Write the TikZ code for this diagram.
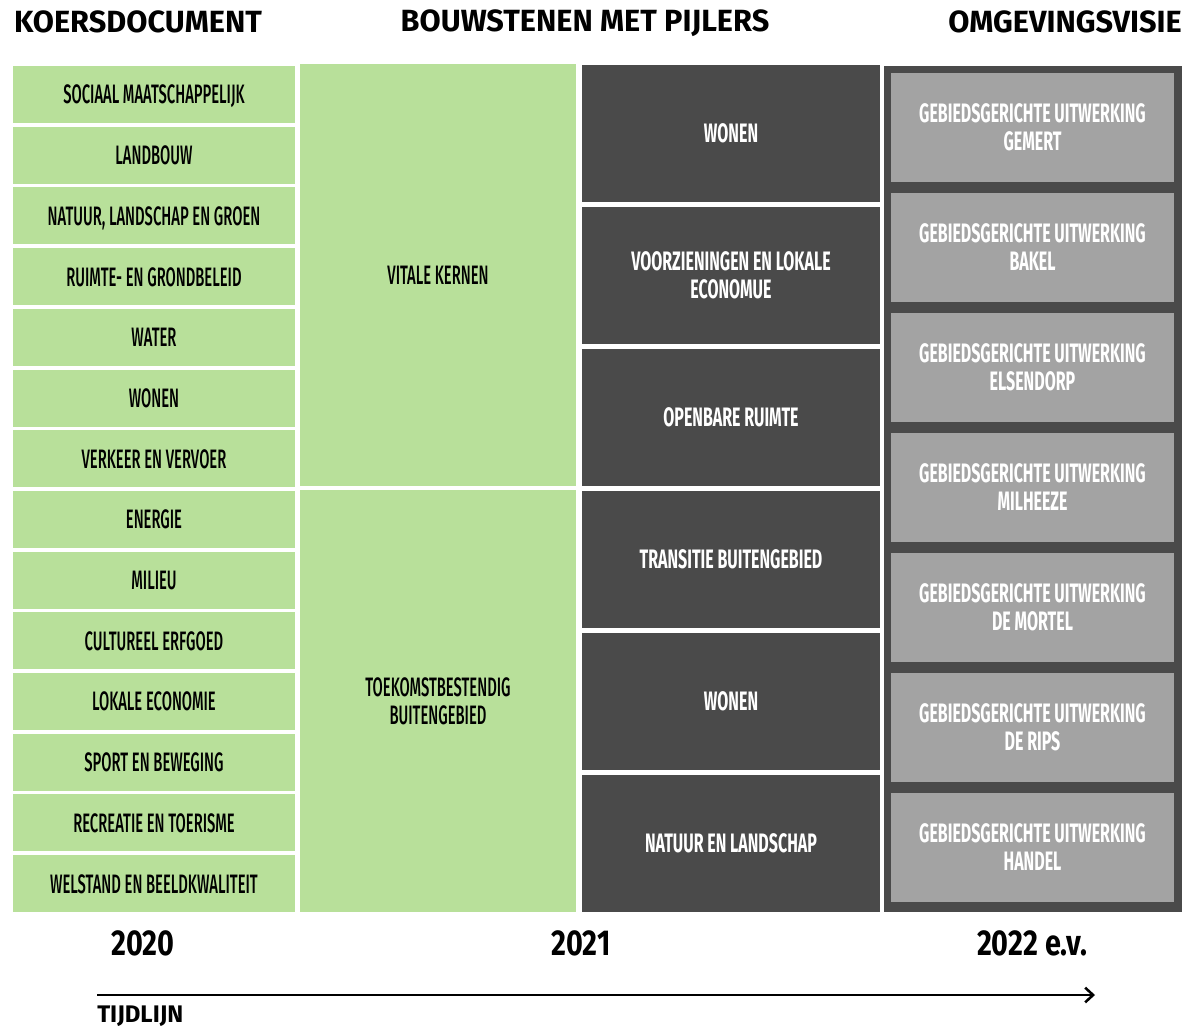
\documentclass[tikz,border=0pt]{standalone}
\usepackage{fontspec}
\setmainfont{Fira Sans}
\newfontfamily\smalfont{Fira Sans Medium}[FakeStretch=0.555]
\newfontfamily\bredefont{Fira Sans}[FakeStretch=0.6]
\newfontfamily\headfont{Fira Sans}
\newfontfamily\yearfont{Fira Sans}[FakeStretch=0.8]
\usetikzlibrary{arrows.meta}
\definecolor{lichtgroen}{HTML}{B8E09A}
\definecolor{donkergrijs}{HTML}{4A4A4A}
\definecolor{lichtgrijs}{HTML}{A3A3A3}
\tikzset{
	blok/.style={inner sep=0pt, outer sep=0pt, text depth=0pt, align=center, font={\smalfont\fontsize{20}{21}\selectfont}},
	thema/.style={blok, fill=lichtgroen, minimum width=211.5pt, minimum height=42.75pt},
	bouwsteen/.style={blok, fill=lichtgroen, minimum width=207pt, minimum height=316.5pt},
	pijler/.style={blok, fill=donkergrijs, text=white, minimum width=223.5pt, minimum height=102.75pt, font={\bredefont\bfseries\fontsize{20}{21}\selectfont}},
	gebied/.style={blok, fill=lichtgrijs, text=white, minimum width=212.25pt, minimum height=81.75pt, font={\bredefont\bfseries\fontsize{20}{21}\selectfont}},
	kop/.style={font={\headfont\bfseries\fontsize{23}{26}\selectfont}},
	jaar/.style={font={\yearfont\bfseries\fontsize{27}{30}\selectfont}}
}
\begin{document}
\begin{tikzpicture}[x=0.75pt, y=-0.75pt]
	\useasboundingbox (0,0) rectangle (1185,1027);
	% koppen
	\node[kop] (koers) at (138,22) {KOERSDOCUMENT};
	\node[kop] (bouw) at (585,23) {BOUWSTENEN MET PIJLERS};
	\node[kop] (visie) at (1065,22) {OMGEVINGSVISIE};
	% koersdocument
	\foreach \tekst [count=\i from 0] in {SOCIAAL MAATSCHAPPELIJK, LANDBOUW, {NATUUR, LANDSCHAP EN GROEN}, RUIMTE- EN GRONDBELEID, WATER, WONEN, VERKEER EN VERVOER, ENERGIE, MILIEU, CULTUREEL ERFGOED, LOKALE ECONOMIE, SPORT EN BEWEGING, RECREATIE EN TOERISME, WELSTAND EN BEELDKWALITEIT}
		\node[thema] (thema\i) at ({154},{94.5+\i*60.7}) {\tekst};
	% bouwstenen
	\node[bouwsteen] (vitaal) at (438,275) {VITALE KERNEN};
	\node[bouwsteen] (buiten) at (438,701) {TOEKOMSTBESTENDIG\\BUITENGEBIED};
	% pijlers
	\foreach \tekst [count=\i from 0] in {WONEN, {VOORZIENINGEN EN LOKALE\\ECONOMUE}, OPENBARE RUIMTE, TRANSITIE BUITENGEBIED, WONEN, NATUUR EN LANDSCHAP}
		\node[pijler] (pijler\i) at ({731},{133.5+\i*142}) {\tekst};
	% omgevingsvisie
	\node[fill=donkergrijs, minimum width=223.5pt, minimum height=634.5pt, inner sep=0pt] (kader) at (1033,489) {};
	\foreach \kern [count=\i from 0] in {GEMERT, BAKEL, ELSENDORP, MILHEEZE, DE MORTEL, DE RIPS, HANDEL}
		\node[gebied] (gebied\i) at ({1032.5},{127.5+\i*120}) {GEBIEDSGERICHTE UITWERKING\\\kern};
	% tijdlijn
	\node[jaar] (j2020) at (143,943) {2020};
	\node[jaar] (j2021) at (581,943) {2021};
	\node[jaar] (j2022) at (1032,943) {2022 e.v.};
	\coordinate (start) at (97,995);
	\coordinate (eind) at (1095,995);
	\draw[-{Straight Barb[length=6pt,width=11pt]}, line width=1.9pt] (start) -- (eind);
	\node[anchor=west, inner sep=0pt, font={\headfont\bfseries\fontsize{18}{20}\selectfont}] (tijdlijn) at (97,1016) {TIJDLIJN};
\end{tikzpicture}
\end{document}
